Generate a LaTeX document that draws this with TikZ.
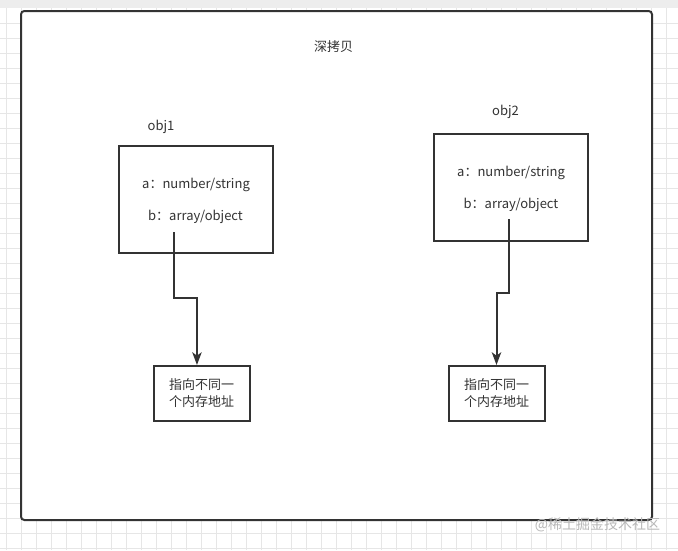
\documentclass[tikz,border=0pt]{standalone}
\usepackage{fontspec}
\setmainfont{Noto Sans CJK SC}
\usepackage{xcolor}
\usetikzlibrary{positioning,arrows.meta}
\definecolor{inkgray}{HTML}{333333}
\definecolor{gridgray}{HTML}{E6E6E6}
\definecolor{markgray}{HTML}{B8B8B8}

\begin{document}
\begin{tikzpicture}[
  x=0.75pt, y=-0.75pt,
  every node/.style={font=\fontsize{9.75}{12.75}\selectfont, text=inkgray},
  objbox/.style ={draw=inkgray, line width=1.5pt, rectangle, minimum width=115.5pt, minimum height=80.25pt},
  addrbox/.style={draw=inkgray, line width=1.5pt, rectangle, minimum width=72pt, minimum height=41.25pt, align=center},
  link/.style   ={draw=inkgray, line width=1.5pt, -{Stealth[length=9.5pt,width=7pt,inset=2.5pt]}},
]
\useasboundingbox (0,0) rectangle (678,550);
% background grid
\fill[white] (0,0) rectangle (678,550);
\fill[black!7] (0,0) rectangle (678,8);
\foreach \gx in {6,21,...,666} \draw[gridgray, line width=0.75pt] (\gx,8) -- (\gx,550);
\foreach \gy in {23,38,...,548} \draw[gridgray, line width=0.75pt] (0,\gy) -- (678,\gy);
% frame
\draw[inkgray, line width=1.5pt, rounded corners=2.5pt, fill=white] (21,11) rectangle (652,520);
\node (title) at (333.5,47) {深拷贝};

% obj1
\node[objbox] (obj1) at (196,199.5) {};
\node (name1) at (161,127) {obj1};
\node (a1) at (196,185) {a：number/string};
\node (b1) at (195.5,217) {b：array/object};
\coordinate (p1) at (174,232);
\node[addrbox] (addr1) at (201.5,393.5) {指向不同一\\个内存地址};
\draw[link] (p1) -- ++(0,65.5) -| ([xshift=-3.4pt]addr1.north);

% obj2
\node[objbox] (obj2) at (510.5,187.5) {};
\node (name2) at (505.5,112) {obj2};
\node (a2) at (511,173) {a：number/string};
\node (b2) at (511,205) {b：array/object};
\coordinate (p2) at (509,219);
\node[addrbox] (addr2) at (496.5,393.5) {指向不同一\\个内存地址};
\draw[link] (p2) -- ++(0,74) -| (addr2.north);

\node[text=markgray, font=\fontsize{10.5}{12}\selectfont] (mark) at (597.5,525) {@稀土掘金技术社区};
\end{tikzpicture}
\end{document}
